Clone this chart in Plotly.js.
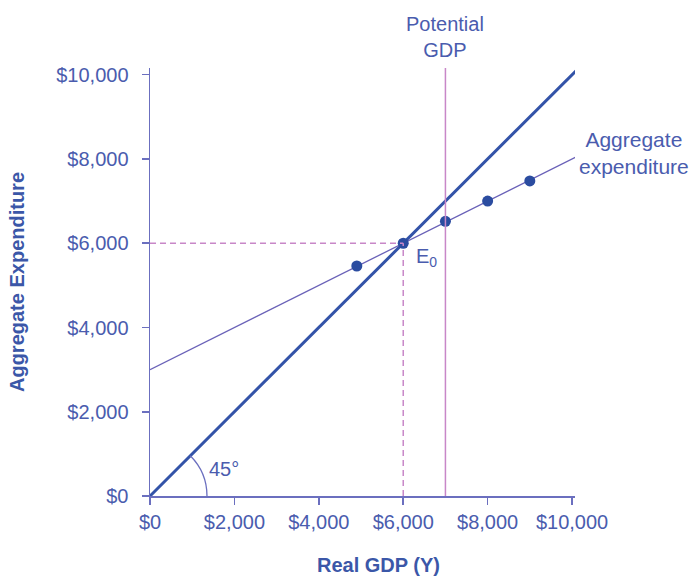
<!DOCTYPE html>
<html>
<head>
<meta charset="utf-8">
<script src="https://cdn.plot.ly/plotly-3.0.1.min.js"></script>
<style>html,body{margin:0;padding:0;background:#fff;}#chart{width:695px;height:578px;}</style>
</head>
<body>
<div id="chart"></div>
<script>
// Data
const lineX45 = [0, 10100];
const lineY45 = [0, 10100];
const aeLineX = [0, 10100];
const aeLineY = [3000, 8050];
const pointsX = [4900, 6000, 7000, 8000, 9000];
const pointsY = [5460, 6000, 6520, 7000, 7480];
const equilibriumX = 6000;
const equilibriumY = 6000;
const potentialGDP = 7000;
const tickVals = [0, 2000, 4000, 6000, 8000, 10000];
const tickText = ['$0', '$2,000', '$4,000', '$6,000', '$8,000', '$10,000'];

const txt = '#4a5cae';
const titleCol = '#3b57a8';
const axisCol = '#6b6fbf';
const pink = '#c887c8';
const font = 'Liberation Sans, Arial, sans-serif';

const traces = [
  {x: lineX45, y: lineY45, mode: 'lines', line: {color: '#3353a8', width: 3}, hoverinfo: 'skip'},
  {x: aeLineX, y: aeLineY, mode: 'lines', line: {color: '#6a62b8', width: 1.3}, hoverinfo: 'skip'},
  {x: pointsX, y: pointsY, mode: 'markers', marker: {color: '#2b4ca0', size: 11}, cliponaxis: false}
];

const layout = {
  width: 695, height: 578,
  margin: {l: 150, r: 120, t: 68, b: 82},
  paper_bgcolor: '#fff', plot_bgcolor: '#fff',
  showlegend: false,
  font: {family: font, size: 20, color: txt},
  xaxis: {
    range: [0, 10070], showgrid: false, zeroline: false,
    showline: true, linecolor: axisCol, linewidth: 1.5,
    ticks: 'outside', ticklen: 7, tickcolor: axisCol, tickwidth: 1.5,
    tickvals: tickVals, ticktext: tickText,
    tickfont: {family: font, size: 20, color: txt}
  },
  yaxis: {
    range: [0, 10160], showgrid: false, zeroline: false,
    showline: true, linecolor: axisCol, linewidth: 1.5,
    ticks: 'outside', ticklen: 7, tickcolor: axisCol, tickwidth: 1.5,
    tickvals: tickVals, ticktext: tickText,
    tickfont: {family: font, size: 20, color: txt},
    ticklabelstandoff: 9,
    title: {text: '<b>Aggregate Expenditure</b>', font: {family: font, size: 20, color: titleCol}, standoff: 26}
  },
  shapes: [
    {type: 'line', xref: 'x', yref: 'paper', x0: potentialGDP, x1: potentialGDP, y0: 0, y1: 1.0,
     line: {color: pink, width: 1.5}},
    {type: 'line', xref: 'x', yref: 'y', x0: 0, x1: equilibriumX, y0: equilibriumY, y1: equilibriumY,
     line: {color: pink, width: 1.5, dash: '6px,4px'}},
    {type: 'line', xref: 'x', yref: 'y', x0: equilibriumX, x1: equilibriumX, y0: 0, y1: equilibriumY,
     line: {color: pink, width: 1.5, dash: '6px,4px'}},
    {type: 'path', xref: 'x', yref: 'y', path: 'M 1350 0 C 1350 358, 1208 701, 955 955',
     line: {color: axisCol, width: 1.3}}
  ],
  annotations: [
    {xref: 'paper', yref: 'paper', x: (378 - 150) / 425, y: (496 - 565) / 428, text: '<b>Real GDP (Y)</b>', showarrow: false,
     xanchor: 'center', yanchor: 'middle', font: {family: font, size: 20, color: titleCol}},
    {xref: 'x', yref: 'paper', x: potentialGDP, y: 1.072, text: 'Potential<br>GDP', showarrow: false,
     xanchor: 'center', yanchor: 'middle', font: {family: font, size: 20, color: txt}},
    {xref: 'paper', yref: 'paper', x: (634 - 150) / 425, y: 0.801, text: 'Aggregate<br>expenditure', showarrow: false,
     xanchor: 'center', yanchor: 'middle', font: {family: font, size: 21, color: txt}},
    {xref: 'x', yref: 'y', x: 6250, y: 5650, text: 'E<sub>0</sub>', showarrow: false,
     xanchor: 'left', yanchor: 'middle', font: {family: font, size: 20, color: txt}},
    {xref: 'x', yref: 'y', x: 1360, y: 640, text: '45°', showarrow: false,
     xanchor: 'left', yanchor: 'middle', font: {family: font, size: 20, color: txt}}
  ]
};

Plotly.newPlot('chart', traces, layout, {displayModeBar: false, staticPlot: true});
</script>
</body>
</html>
